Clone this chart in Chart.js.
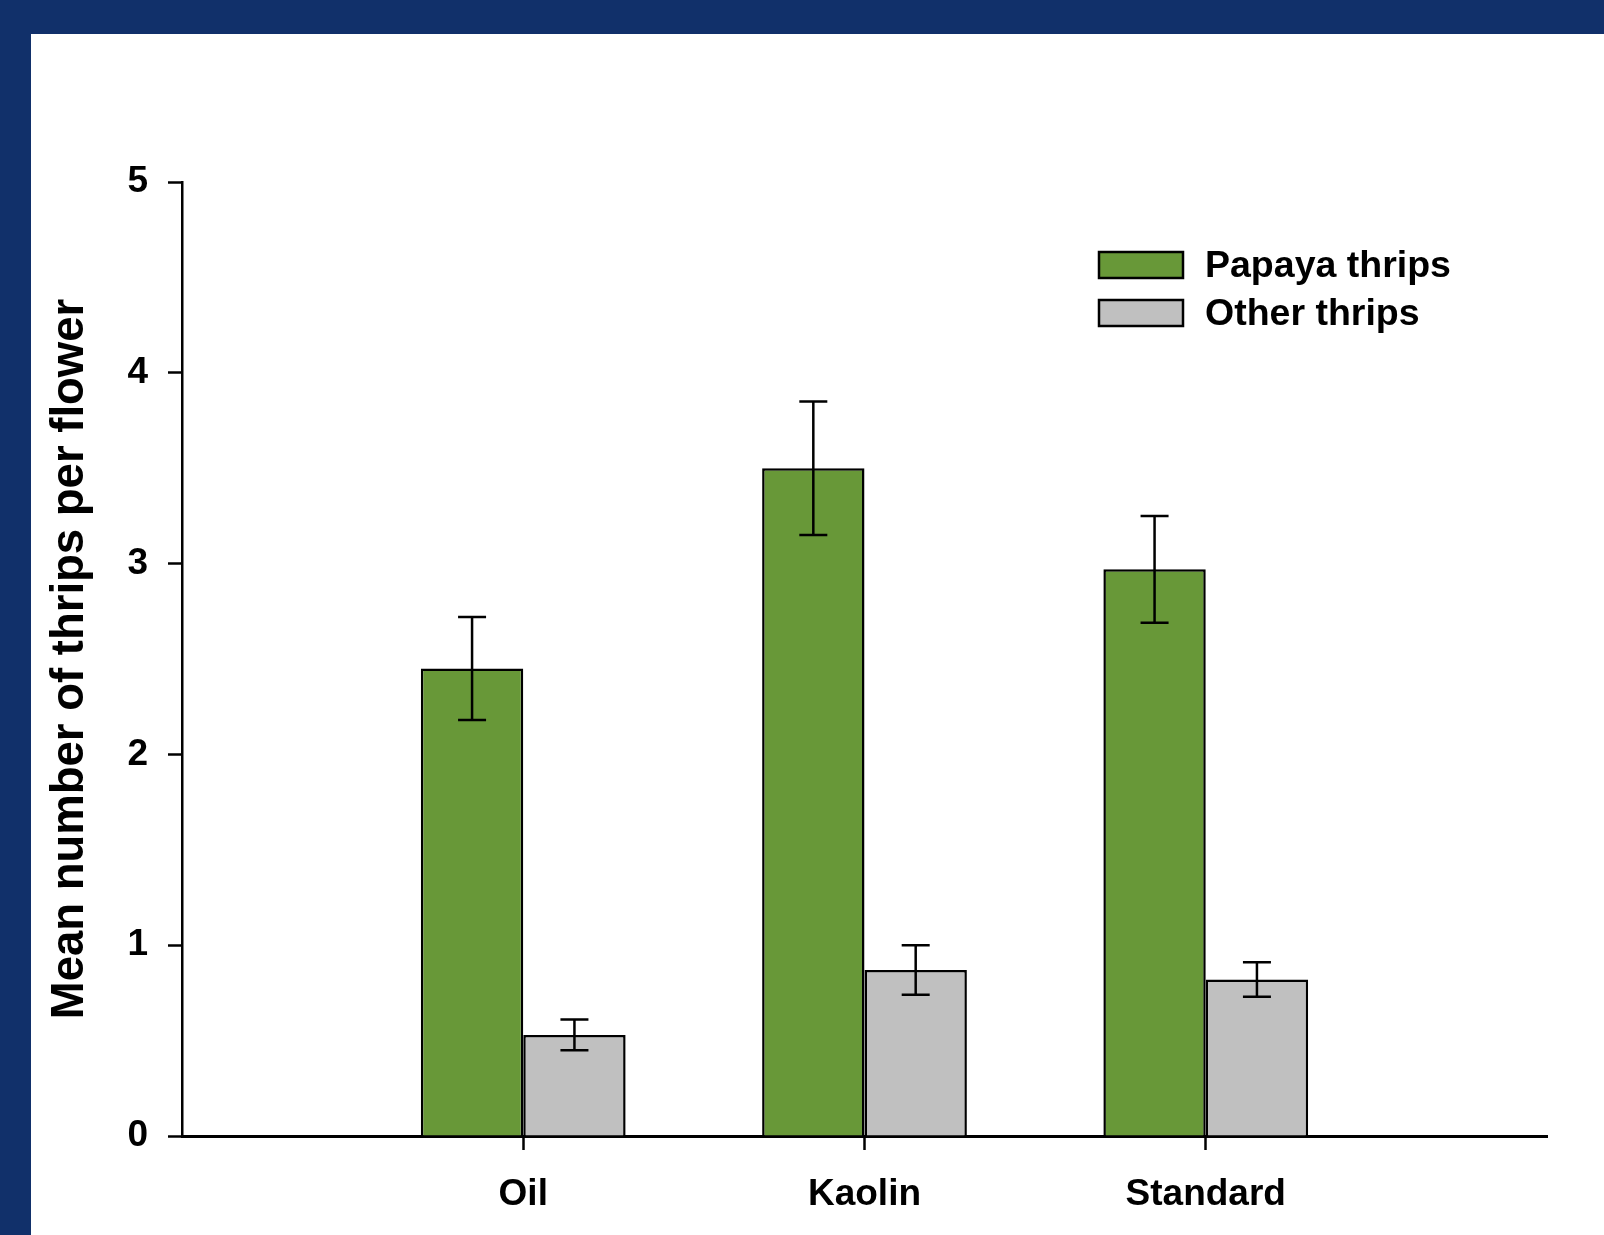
<!DOCTYPE html>
<html>
<head>
<meta charset="utf-8">
<script src="https://cdn.jsdelivr.net/npm/chart.js@4.4.1/dist/chart.umd.min.js"></script>
<style>
  html, body { margin: 0; padding: 0; }
  body { width: 1604px; height: 1235px; background: #11306a; position: relative; overflow: hidden; }
  #wrap { position: absolute; left: 31px; top: 34px; width: 1573px; height: 1201px; background: #fff; }
</style>
</head>
<body>
<div id="wrap"><canvas id="thripsChart"></canvas></div>
<script>
'use strict';

// --- data ---
const categories = ['Oil', 'Kaolin', 'Standard'];
const papaya = [2.45, 3.50, 2.97];
const papayaErr = [0.27, 0.35, 0.28];
const other = [0.53, 0.87, 0.82];
const otherErr = [0.08, 0.13, 0.09];
const yTicks = [0, 1, 2, 3, 4, 5];

const FONT = "'Liberation Sans', Arial, sans-serif";
const errs = [papayaErr, otherErr];

// error bars on top of each bar
const errorBars = {
  id: 'errorBars',
  afterDatasetsDraw(chart) {
    const ctx = chart.ctx;
    const y = chart.scales.y;
    ctx.save();
    ctx.strokeStyle = '#000';
    ctx.lineWidth = 2.5;
    chart.data.datasets.forEach((ds, i) => {
      const meta = chart.getDatasetMeta(i);
      meta.data.forEach((bar, j) => {
        const v = ds.data[j].y, e = errs[i][j];
        const top = y.getPixelForValue(v + e);
        const bot = y.getPixelForValue(v - e);
        ctx.beginPath();
        ctx.moveTo(bar.x, top); ctx.lineTo(bar.x, bot);
        ctx.moveTo(bar.x - 14, top); ctx.lineTo(bar.x + 14, top);
        ctx.moveTo(bar.x - 14, bot); ctx.lineTo(bar.x + 14, bot);
        ctx.stroke();
      });
    });
    ctx.restore();
  }
};

// legend boxes inside the plot, upper right
const boxLegend = {
  id: 'boxLegend',
  afterDraw(chart) {
    const ctx = chart.ctx;
    ctx.save();
    ctx.font = 'bold 37.5px ' + FONT;
    ctx.textBaseline = 'middle';
    chart.data.datasets.forEach((ds, i) => {
      const bx = 1068, by = 218 + i * 48;
      ctx.fillStyle = ds.backgroundColor;
      ctx.fillRect(bx, by, 84, 26);
      ctx.strokeStyle = '#000';
      ctx.lineWidth = 2.5;
      ctx.strokeRect(bx, by, 84, 26);
      ctx.fillStyle = '#000';
      ctx.fillText(ds.label, bx + 106, by + 15);
    });
    ctx.restore();
  }
};

const c1 = document.getElementById('thripsChart');
new Chart(c1.getContext('2d'), {
  type: 'bar',
  data: {
    datasets: [
      {
        label: 'Papaya thrips',
        data: papaya.map((v, i) => ({ x: i + 1, y: v })),
        backgroundColor: '#689838',
        borderColor: '#000',
        borderWidth: 2.5,
        borderSkipped: 'start',
      },
      {
        label: 'Other thrips',
        data: other.map((v, i) => ({ x: i + 1, y: v })),
        backgroundColor: '#c0c0c0',
        borderColor: '#000',
        borderWidth: 2.5,
        borderSkipped: 'start',
      },
    ],
  },
  options: {
    responsive: true,
    maintainAspectRatio: false,
    animation: false,
    categoryPercentage: 0.6,
    barPercentage: 1.0,
    layout: { padding: { top: 148, right: 57, left: 0, bottom: 0 } },
    plugins: { legend: { display: false }, tooltip: { enabled: false } },
    scales: {
      x: {
        type: 'linear',
        min: 0,
        max: categories.length + 1,
        offset: false,
        afterFit: s => { s.height = 99; },
        border: { color: '#000', width: 3 },
        grid: {
          offset: false,
          drawOnChartArea: false,
          tickLength: 14,
          tickWidth: 2.5,
          tickColor: c => (c.tick && categories[c.tick.value - 1]) ? '#000' : 'rgba(0,0,0,0)',
        },
        ticks: {
          stepSize: 1,
          autoSkip: false,
          maxRotation: 0,
          padding: 23,
          color: '#000',
          font: { family: FONT, size: 37, weight: 'bold' },
          callback: v => categories[v - 1] || '',
        },
      },
      y: {
        min: yTicks[0],
        max: yTicks[yTicks.length - 1],
        afterFit: s => { s.width = 151; },
        border: { color: '#000', width: 2.5 },
        grid: { drawOnChartArea: false, tickLength: 14, tickWidth: 2.5, tickColor: '#000' },
        ticks: {
          stepSize: 1,
          padding: 20,
          color: '#000',
          font: { family: FONT, size: 37, weight: 'bold' },
        },
        title: {
          display: true,
          text: 'Mean number of thrips per flower',
          color: '#000',
          font: { family: FONT, size: 45.5, weight: 'bold' },
          padding: { top: 12, bottom: 0 },
        },
      },
    },
  },
  plugins: [errorBars, boxLegend],
});
</script>
</body>
</html>
